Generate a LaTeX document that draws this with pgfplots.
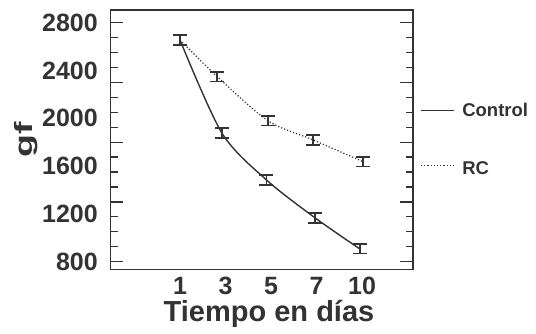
\documentclass[border=0pt]{standalone}
\usepackage{fontspec}
\setmainfont{Liberation Sans}
\usepackage{graphicx}
\usepackage{pgfplots}
\pgfplotsset{compat=1.18}
\definecolor{ink}{HTML}{333333}
\begin{document}
\begin{tikzpicture}
\useasboundingbox (0,0) rectangle (536pt,333pt);
\begin{axis}[
  at={(110.7pt,63.7pt)}, anchor=south west,
  scale only axis, width=302.3pt, height=259.3pt,
  xmin=-1.523, xmax=5.12, ymin=736, ymax=2906,
  axis line style={ink, line width=1.2pt},
  /pgf/number format/assume math mode=true,
  /pgf/number format/1000 sep={},
  scaled y ticks=false,
  xtick={0,1,2,3,4}, xticklabels={1,3,5,7,10},
  xtick style={draw=none},
  ytick={800,1300,1800,2300,2800}, yticklabels={},
  minor y tick num=3,
  ytick pos=both, yticklabel pos=left,
  tick align=inside,
  major tick length=12.7pt, minor tick length=7pt,
  ytick style={ink, line width=1.2pt},
  extra y ticks={800,1200,1600,2000,2400,2800},
  extra y tick labels={800,1200,1600,2000,2400,2800},
  extra y tick style={major tick length=0pt, tick style={draw=none}},
  tick label style={font=\fontsize{25}{25}\selectfont\bfseries, text=ink},
  yticklabel style={anchor=east, inner sep=0pt, xshift=-12.7pt},
  xticklabel style={anchor=north, inner sep=0pt, yshift=-7.5pt},
  xlabel={Tiempo en días},
  xlabel style={at={(axis description cs:0.5237,0)}, anchor=base, yshift=-52.5pt,
    font=\fontsize{29}{29}\selectfont\bfseries, text=ink},
  ylabel={\scalebox{1.5}[1]{gf}},
  ylabel style={at={(axis description cs:-0.280,0.4987)}, anchor=center,
    font=\fontsize{25}{25}\selectfont\bfseries, text=ink},
  legend style={at={(axis description cs:1.0232,0.6425)}, anchor=north west,
    draw=none, fill=none, inner sep=0pt, row sep=44pt, column sep=8pt,
    nodes={inner sep=0pt, font=\fontsize{18.5}{18.5}\selectfont\bfseries, text=ink}},
  legend cell align=left,
  legend image code/.code={\draw[#1] (0pt,0pt) -- (32.7pt,0pt);},
]
\addplot[ink, line width=1.4pt, smooth, forget plot,
  error bars/.cd, y dir=both, y explicit,
  error bar style={solid, line width=1.7pt},
  error mark options={rotate=90, mark size=7pt, line width=1.7pt, solid}]
  coordinates {(0,2655) +- (0,40) (0.92,1877) +- (0,40) (1.9,1484) +- (0,40)
               (2.97,1166) +- (0,40) (3.95,907) +- (0,40)};
\addplot[ink, line width=1.2pt, smooth, dotted, forget plot,
  error bars/.cd, y dir=both, y explicit,
  error bar style={solid, line width=1.7pt},
  error mark options={rotate=90, mark size=7pt, line width=1.7pt, solid}]
  coordinates {(0,2655) +- (0,40) (0.82,2348) +- (0,40) (1.93,1980) +- (0,40)
               (2.93,1818) +- (0,40) (4.02,1637) +- (0,40)};
\addlegendimage{ink, line width=1.4pt}
\addlegendentry{Control}
\addlegendimage{ink, line width=1.2pt, dotted}
\addlegendentry{\raisebox{-7pt}{RC}}
\end{axis}
\end{tikzpicture}
\end{document}
